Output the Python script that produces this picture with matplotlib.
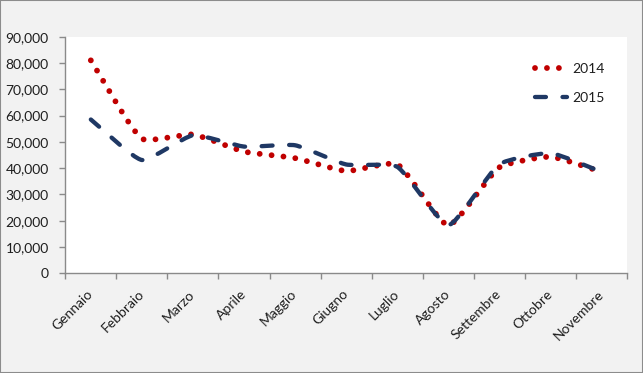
import numpy as np
import matplotlib
matplotlib.use("Agg")
import matplotlib.pyplot as plt
from matplotlib.path import Path
from matplotlib.patches import PathPatch, Rectangle
from matplotlib.lines import Line2D
from matplotlib.ticker import FuncFormatter, FixedLocator

# ---------------- data ----------------
months = ["Gennaio", "Febbraio", "Marzo", "Aprile", "Maggio", "Giugno",
          "Luglio", "Agosto", "Settembre", "Ottobre", "Novembre"]
sales_2014 = [81000, 51200, 52800, 46300, 43800, 38900, 41500, 18200, 40300, 44300, 38600]
sales_2015 = [58500, 43100, 52500, 48200, 48700, 41400, 40500, 18300, 41500, 45700, 38600]
series_names = ["2014", "2015"]
y_ticks = list(range(0, 90001, 10000))

plt.rcParams["font.family"] = ["Lato", "DejaVu Sans"]
TEXT = "#1e1e1e"
AXIS = "#8a8a8a"
RED = "#C00000"
BLUE = "#1F3864"

W, H = 643, 373
fig = plt.figure(figsize=(W / 100, H / 100), dpi=100, facecolor="#F2F2F2")
ax = fig.add_axes([65.3 / W, (H - 273.3) / H, (627 - 65.3) / W, (273.3 - 36.7) / H])
ax.set_facecolor("white")

x = np.arange(len(months))
ax.set_xlim(-0.5, len(months) - 0.5)
ax.set_ylim(0, 90000)

for s in ["top", "right"]:
    ax.spines[s].set_visible(False)
for s in ["left", "bottom"]:
    ax.spines[s].set_color(AXIS)
    ax.spines[s].set_linewidth(1.0)

ax.yaxis.set_major_locator(FixedLocator(y_ticks))
ax.yaxis.set_major_formatter(FuncFormatter(lambda v, p: f"{v:,.0f}"))
ax.tick_params(axis="y", length=4.5, width=1, color=AXIS, pad=7.5,
               labelsize=10, labelcolor=TEXT, direction="out")

ax.set_xticks(x, labels=months, rotation=45, ha="right", va="center",
              rotation_mode="anchor")
ax.set_xticks(np.arange(-0.5, len(months)), minor=True)
ax.tick_params(axis="x", which="major", length=0, pad=13.5, labelsize=10,
               labelcolor=TEXT)
ax.tick_params(axis="x", which="minor", length=4.5, width=1, color=AXIS,
               direction="out")


def smooth_path(xs, ys, k=0.5):
    """Excel-like smoothed line: cubic Bezier through the data points."""
    pts = ax.transData.transform(np.column_stack([xs, ys]).astype(float))
    n = len(pts)
    verts = [pts[0]]
    codes = [Path.MOVETO]
    for i in range(n - 1):
        p0 = pts[i - 1] if i > 0 else pts[i]
        p1, p2 = pts[i], pts[i + 1]
        p3 = pts[i + 2] if i + 2 < n else pts[i + 1]
        d01 = np.linalg.norm(p1 - p0)
        d12 = np.linalg.norm(p2 - p1)
        d23 = np.linalg.norm(p3 - p2)
        s1 = 2 * d12 / (d01 + d12) if d01 > 0 else 2.0
        s2 = 2 * d12 / (d12 + d23) if d23 > 0 else 2.0
        c1 = p1 + (p2 - p0) / 6.0 * k * s1
        c2 = p2 - (p3 - p1) / 6.0 * k * s2
        verts += [c1, c2, p2]
        codes += [Path.CURVE4] * 3
    data_verts = ax.transData.inverted().transform(np.array(verts))
    return Path(data_verts, codes)


dot_lw = 4.2
dot_ls = (0, (0.001, 8.6 / dot_lw))
dash_ls = (0, (2.54, 3.85))
p14 = PathPatch(smooth_path(x, sales_2014), fill=False, edgecolor=RED, lw=dot_lw,
                linestyle=dot_ls, capstyle="round", joinstyle="round", zorder=3)
p15 = PathPatch(smooth_path(x, sales_2015), fill=False, edgecolor=BLUE, lw=3.1,
                linestyle=dash_ls, capstyle="round", joinstyle="round", zorder=4)
ax.add_patch(p14)
ax.add_patch(p15)

h14 = Line2D([], [], color=RED, lw=dot_lw, linestyle=dot_ls, dash_capstyle="round")
h15 = Line2D([], [], color=BLUE, lw=3.1, linestyle=dash_ls, dash_capstyle="round")
leg = fig.legend([h14, h15], series_names, loc="center left",
                 bbox_to_anchor=(535 / W, 1 - 83.5 / H), frameon=False,
                 fontsize=10, handlelength=2.3, handletextpad=0.35,
                 labelspacing=1.25, borderpad=0, borderaxespad=0,
                 labelcolor=TEXT)

fig.patches.append(Rectangle((0, 0), 1, 1, transform=fig.transFigure, fill=False,
                             edgecolor="#8c8c8c", lw=1.5, zorder=10))

fig.savefig("out.png", dpi=100, facecolor=fig.get_facecolor())
